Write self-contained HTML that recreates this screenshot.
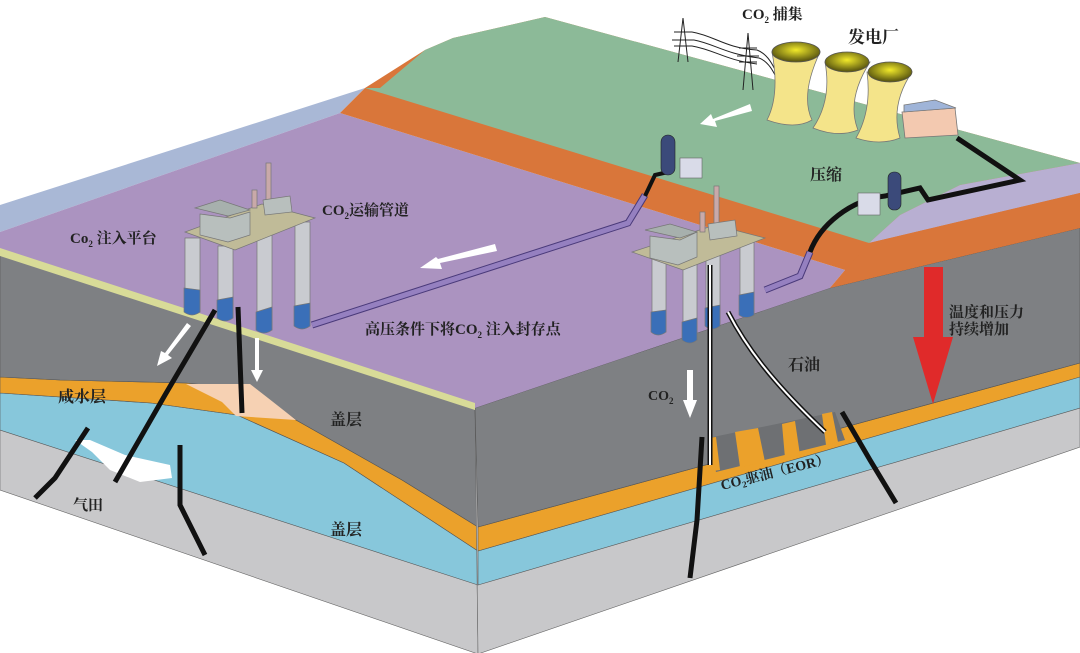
<!DOCTYPE html>
<html><head><meta charset="utf-8"><style>
html,body{margin:0;padding:0;background:#fff;}
svg{display:block}
text{font-family:"Liberation Serif","Noto Serif CJK SC","Noto Sans CJK SC",serif;font-weight:bold;fill:#222;}
</style></head><body>
<svg width="1080" height="653" viewBox="0 0 1080 653" xmlns="http://www.w3.org/2000/svg">
<defs>
<radialGradient id="tg" cx="50%" cy="40%" r="55%"><stop offset="0" stop-color="#f2ea2a"/><stop offset="1" stop-color="#5e5a10"/></radialGradient>
</defs>
<!-- left face layers -->
<polygon points="0,255 475,408 478,654 0,490" fill="#c8c8ca" stroke="#666" stroke-width="0.6"/>
<polygon points="0,393 151,403 237,415 344,463 478,551 478,585 0,430" fill="#87c7db" stroke="#555" stroke-width="0.6"/>
<polygon points="0,377 60,380 186,383 255,390 296,420 402,480 478,527 478,551 344,463 237,415 151,403 0,393" fill="#eba12b" stroke="#555" stroke-width="0.6"/>
<polygon points="0,255 475,408 478,527 402,480 296,420 255,390 186,383 60,380 0,377" fill="#7e8083" stroke="#555" stroke-width="0.6"/>
<polygon points="186,384 250,384 268,398 296,420 236,416 222,402" fill="#f6d1b3"/>
<polygon points="75,440 92,452 110,470 140,482 172,478 170,465 125,455 90,440" fill="#fff"/>
<!-- right face layers -->
<polygon points="475,408 830,288 1080,228 1080,447 478,654" fill="#c8c8ca" stroke="#666" stroke-width="0.6"/>
<polygon points="478,551 1077,377 1080,377 1080,408 478,585" fill="#87c7db" stroke="#555" stroke-width="0.6"/>
<polygon points="478,527 1080,363 1080,377 478,551" fill="#eba12b" stroke="#555" stroke-width="0.6"/>
<polygon points="475,408 830,288 1080,228 1080,363 478,527" fill="#7e8083" stroke="#555" stroke-width="0.6"/>
<!-- EOR zone -->
<polygon points="708,438 835,412 845,440 716,472" fill="#6e7073"/>
<polygon points="708,438 716,437 720,470 713,471" fill="#eba12b"/>
<polygon points="735,432 758,428 765,462 740,467" fill="#eba12b"/>
<polygon points="782,424 795,421 800,455 785,458" fill="#eba12b"/>
<polygon points="822,414 832,412 838,442 826,445" fill="#eba12b"/>
<!-- top surface -->
<polygon points="0,205 365,88 340,113 0,232" fill="#a9b8d6"/>
<polygon points="0,232 340,113 845,270 830,288 475,408 0,250" fill="#ab93c0"/>
<polygon points="0,248 475,403 475,410 0,256" fill="#d8db98"/>
<polygon points="365,88 425,50 453,38 545,17 1080,163 1080,228 830,288 845,270 340,113" fill="#d9763a"/>
<polygon points="365,88 380,88 425,50 453,38 545,17 1080,163 960,185 900,215 869,243" fill="#8cba98"/>
<polygon points="869,243 900,215 960,185 1080,163 1080,193" fill="#b8afd2"/>
<polygon points="1080,193 869,243 830,288 1080,228" fill="#d9763a"/>
<!-- pipelines -->
<polyline points="312,325 628,223 645,195" fill="none" stroke="#4a3a7a" stroke-width="7"/>
<polyline points="312,325 628,223 645,195" fill="none" stroke="#9580c0" stroke-width="5"/>
<polyline points="645,196 655,175 668,172" fill="none" stroke="#111" stroke-width="4"/>
<polyline points="765,290 800,276 810,252" fill="none" stroke="#4a3a7a" stroke-width="7"/>
<polyline points="765,290 800,276 810,252" fill="none" stroke="#9580c0" stroke-width="5"/>
<path d="M810,252 C820,225 850,200 885,196 L920,188 L928,200 L1020,180 L957,138" fill="none" stroke="#111" stroke-width="5"/>
<!-- tanks -->
<rect x="661" y="135" width="14" height="40" rx="7" fill="#3b4a7a" stroke="#222" stroke-width="0.6"/>
<rect x="680" y="158" width="22" height="20" fill="#d9dbe8" stroke="#666" stroke-width="0.6"/>
<rect x="888" y="172" width="13" height="38" rx="6" fill="#3b4a7a" stroke="#222" stroke-width="0.6"/>
<rect x="858" y="193" width="22" height="22" fill="#d9dbe8" stroke="#666" stroke-width="0.6"/>
<!-- pylons -->
<g stroke="#222" stroke-width="1" fill="none">
<path d="M683,18 L678,62 M683,18 L688,62 M674,32 L692,32 M672,40 L694,40 M674,46 L692,46"/>
<path d="M748,33 L743,90 M748,33 L753,90 M739,48 L757,48 M737,56 L759,56 M739,62 L757,62"/>
<path d="M692,32 C715,36 725,48 757,50 C770,55 775,70 780,80 M694,40 C715,44 725,54 759,58 C770,62 775,75 780,85 M692,46 C715,50 725,60 757,64"/>
</g>
<!-- cooling towers -->
<g stroke="#777" stroke-width="0.8">
<path d="M772,52 Q780,95 767,120 Q795,130 812,120 Q800,95 820,52 Z" fill="#f4e48a"/>
<ellipse cx="796" cy="52" rx="24" ry="10" fill="url(#tg)" stroke="#555"/>
<path d="M825,62 Q832,100 813,128 Q838,138 858,130 Q846,100 870,62 Z" fill="#f4e48a"/>
<ellipse cx="847" cy="62" rx="22" ry="10" fill="url(#tg)" stroke="#555"/>
<path d="M867,72 Q872,110 856,138 Q880,146 900,138 Q890,105 912,72 Z" fill="#f4e48a"/>
<ellipse cx="890" cy="72" rx="22" ry="10" fill="url(#tg)" stroke="#555"/>
<path d="M902,112 L955,108 L958,135 L905,138 Z" fill="#f3c9b0"/>
<path d="M904,105 L935,100 L956,108 L904,112 Z" fill="#9fb4d8"/>
</g>
<!-- left platform -->
<g stroke="#777" stroke-width="0.7">
<polygon points="185,238 200,238 200,312 185,312" fill="#c9cbd0"/>
<polygon points="218,246 233,246 233,318 218,318" fill="#c9cbd0"/>
<polygon points="257,235 272,235 272,330 257,330" fill="#c9cbd0"/>
<polygon points="295,222 310,222 310,326 295,326" fill="#c9cbd0"/>
<path d="M184,288 L200,290 L200,312 Q192,318 184,312 Z" fill="#3a6fb8"/>
<path d="M217,300 L233,297 L233,318 Q225,324 217,318 Z" fill="#3a6fb8"/>
<path d="M256,312 L272,307 L272,330 Q264,336 256,330 Z" fill="#3a6fb8"/>
<path d="M294,306 L310,303 L310,326 Q302,332 294,326 Z" fill="#3a6fb8"/>
<polygon points="185,232 235,250 315,218 262,204" fill="#c0bb98"/>
<rect x="252" y="190" width="5" height="18" fill="#c9a9a9"/>
<rect x="266" y="163" width="5" height="40" fill="#c9a9a9"/>
<polygon points="200,214 230,218 250,212 250,235 228,242 200,235" fill="#b8bfbd"/>
<polygon points="195,208 220,200 250,210 228,216" fill="#a7b0ad"/>
<polygon points="263,200 290,196 292,212 265,215" fill="#b8bfbd"/>
</g>
<!-- right platform -->
<g stroke="#777" stroke-width="0.7">
<polygon points="652,258 666,258 666,332 652,332" fill="#c9cbd0"/>
<polygon points="683,264 697,264 697,340 683,340" fill="#c9cbd0"/>
<polygon points="706,252 720,252 720,326 706,326" fill="#c9cbd0"/>
<polygon points="740,240 754,240 754,315 740,315" fill="#c9cbd0"/>
<path d="M651,312 L666,310 L666,332 Q658,338 651,332 Z" fill="#3a6fb8"/>
<path d="M682,322 L697,318 L697,340 Q690,346 682,340 Z" fill="#3a6fb8"/>
<path d="M705,308 L720,305 L720,326 Q712,332 705,326 Z" fill="#3a6fb8"/>
<path d="M739,295 L754,292 L754,315 Q746,320 739,315 Z" fill="#3a6fb8"/>
<polygon points="632,252 683,270 765,238 715,225" fill="#c0bb98"/>
<rect x="700" y="212" width="5" height="20" fill="#c9a9a9"/>
<rect x="714" y="186" width="5" height="44" fill="#c9a9a9"/>
<polygon points="650,236 680,240 697,232 697,257 678,265 650,258" fill="#b8bfbd"/>
<polygon points="645,230 670,224 697,232 680,238" fill="#a7b0ad"/>
<polygon points="708,224 735,220 737,236 710,240" fill="#b8bfbd"/>
</g>
<!-- wells -->
<g fill="none" stroke-linecap="butt">
<line x1="710" y1="265" x2="710" y2="465" stroke="#111" stroke-width="5"/>
<line x1="710" y1="265" x2="710" y2="465" stroke="#fff" stroke-width="2"/>
<path d="M728,312 C745,345 770,380 825,432" stroke="#111" stroke-width="5"/>
<path d="M728,312 C745,345 770,380 825,432" stroke="#fff" stroke-width="2"/>
<g stroke="#111" stroke-width="5">
<path d="M215,310 L165,395 L115,482"/>
<path d="M88,428 L55,478 L35,498"/>
<path d="M180,445 L180,505 L205,555"/>
<path d="M238,307 L242,413"/>
<path d="M702,437 L697,520 L690,578"/>
<path d="M842,412 L870,460 L896,503"/>
</g>
</g>
<!-- white arrows -->
<g fill="#fff">
<polygon points="750,104 752,111 715,121 717,127 700,124 711,114 713,119"/>
<polygon points="495,244 497,251 440,263 442,269 420,268 436,257 438,259"/>
<polygon points="187,323 191,326 168,355 172,358 157,366 161,351 165,353"/>
<polygon points="255,338 259,338 259,370 263,370 257,382 251,370 255,370"/>
<polygon points="687,370 693,370 693,400 697,400 690,418 683,400 687,400"/>
</g>
<!-- red arrow -->
<polygon points="924,267 943,267 943,337 953,337 933,404 913,337 924,337" fill="#e02a2a"/>
<!-- labels -->
<text x="742" y="19" font-size="15">CO<tspan font-size="9" dy="4">2</tspan><tspan dy="-4"> 捕集</tspan></text>
<text x="848" y="43" font-size="17">发电厂</text>
<text x="810" y="180" font-size="16">压缩</text>
<text x="322" y="215" font-size="15">CO<tspan font-size="9" dy="4">2</tspan><tspan dy="-4">运输管道</tspan></text>
<text x="70" y="243" font-size="15">Co<tspan font-size="9" dy="4">2</tspan><tspan dy="-4"> 注入平台</tspan></text>
<text x="365" y="334" font-size="15">高压条件下将CO<tspan font-size="9" dy="4">2</tspan><tspan dy="-4"> 注入封存点</tspan></text>
<text x="949" y="317" font-size="15">温度和压力</text>
<text x="949" y="334" font-size="15">持续增加</text>
<text x="788" y="370" font-size="16">石油</text>
<text x="648" y="400" font-size="14">CO<tspan font-size="9" dy="4">2</tspan></text>
<text x="722" y="490" font-size="14" transform="rotate(-14 722 490)">CO<tspan font-size="9" dy="3">2</tspan><tspan dy="-3">驱油（EOR）</tspan></text>
<text x="58" y="402" font-size="16">咸水层</text>
<text x="330" y="425" font-size="16">盖层</text>
<text x="330" y="535" font-size="16">盖层</text>
<text x="73" y="510" font-size="15">气田</text>
</svg>
</body></html>
